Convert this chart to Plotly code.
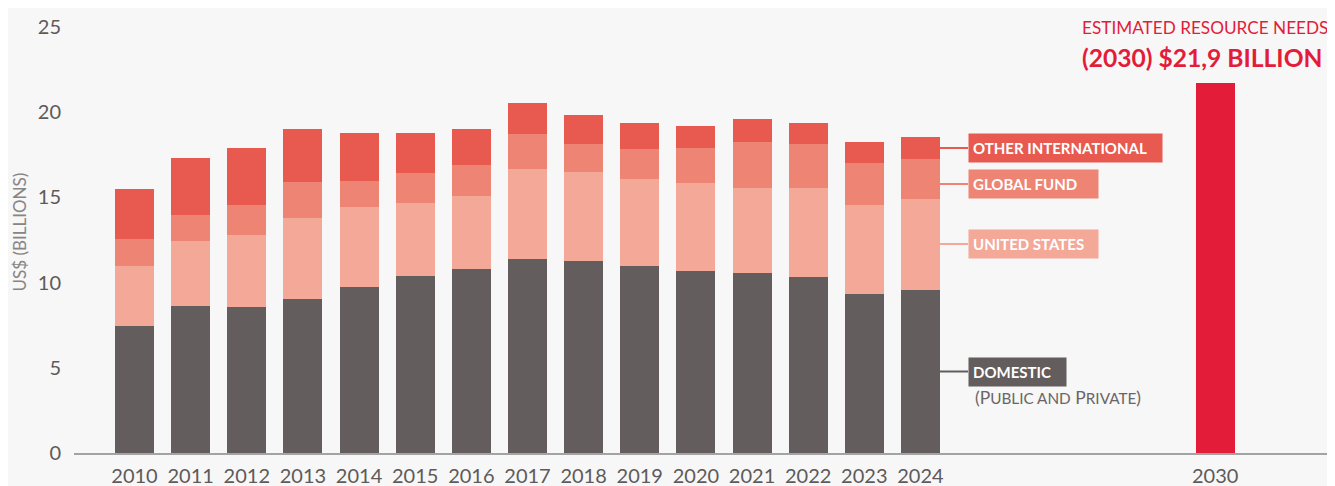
import plotly.graph_objects as go

# ---------------- data ----------------
years = ["2010", "2011", "2012", "2013", "2014", "2015", "2016", "2017",
         "2018", "2019", "2020", "2021", "2022", "2023", "2024"]
domestic = [7.44, 8.62, 8.56, 9.03, 9.74, 10.38, 10.79, 11.38,
            11.26, 10.97, 10.68, 10.56, 10.32, 9.32, 9.56]
united_states = [3.53, 3.82, 4.23, 4.76, 4.70, 4.30, 4.30, 5.30,
                 5.24, 5.12, 5.17, 5.00, 5.24, 5.24, 5.35]
global_fund = [1.59, 1.53, 1.77, 2.12, 1.53, 1.76, 1.82, 2.06,
               1.65, 1.76, 2.06, 2.70, 2.59, 2.47, 2.35]
other_international = [2.94, 3.35, 3.35, 3.12, 2.82, 2.35, 2.12, 1.82,
                       1.70, 1.53, 1.30, 1.36, 1.23, 1.23, 1.30]
target_year = "2030"
target_value = 21.7
y_ticks = [0, 5, 10, 15, 20, 25]

# ---------------- style / layout ----------------
C_DOM = "#635d5d"
C_US = "#f4a898"
C_GF = "#ee8473"
C_OI = "#e85a50"
C_TARGET = "#e31c3a"
BG = "#f6f7f6"
FONT = "Lato"

OFF = 8  # page body margin offset
W, H = 1335 - OFF, 486 - OFF
ML, MR, MT, MB = 74 - OFF, 2, 27 - OFF, 33
plot_w = W - ML - MR
plot_h = H - MT - MB

x_pos = list(range(len(years)))
target_pos = len(years) - 1 + 5.25
x0_px, step_px = 134.5 - OFF, 56.14
x_range = [(ML - x0_px) / step_px, (W - MR - x0_px) / step_px]
bar_w = 0.695


def px_to_paper_x(px):
    return (px - OFF - ML) / plot_w


def px_to_paper_y(py):
    return (H - MB - (py - OFF)) / plot_h


fig = go.Figure()
for name, vals, col in [("Domestic", domestic, C_DOM),
                        ("United States", united_states, C_US),
                        ("Global Fund", global_fund, C_GF),
                        ("Other international", other_international, C_OI)]:
    fig.add_trace(go.Bar(x=x_pos, y=vals, name=name, marker_color=col,
                         marker_line_width=0, width=bar_w))
fig.add_trace(go.Bar(x=[target_pos], y=[target_value], name=target_year,
                     marker_color=C_TARGET, marker_line_width=0, width=bar_w))

# series labels with connector lines
label_left_px = 968
labels = [
    ("OTHER INTERNATIONAL", C_OI, 148, 193),
    ("GLOBAL FUND", C_GF, 184, 129),
    ("UNITED STATES", C_US, 244, 129),
    ("DOMESTIC", C_DOM, 371.5, 97),
]
annotations = []
shapes = []
for text, col, py, box_w in labels:
    shapes.append(dict(type="line", xref="paper", yref="paper",
                       x0=px_to_paper_x(940), x1=px_to_paper_x(label_left_px),
                       y0=px_to_paper_y(py), y1=px_to_paper_y(py),
                       line=dict(color=col, width=2)))
    annotations.append(dict(
        xref="paper", yref="paper", x=px_to_paper_x(label_left_px),
        y=px_to_paper_y(py), xanchor="left", yanchor="middle",
        text=text, showarrow=False, align="left",
        bgcolor=col, borderpad=4, width=box_w - 8, height=20,
        font=dict(family=FONT, size=15, color="white", weight="bold")))

annotations.append(dict(
    xref="paper", yref="paper", x=px_to_paper_x(973), y=px_to_paper_y(397),
    xanchor="left", yanchor="middle", showarrow=False,
    text="(P<span style='font-size:15.3px'>UBLIC AND</span> P<span style='font-size:15.3px'>RIVATE</span>)",
    font=dict(family=FONT, size=17.5, color="#6b6565")))

annotations.append(dict(
    xref="paper", yref="paper", x=px_to_paper_x(1080), y=px_to_paper_y(27),
    xanchor="left", yanchor="middle", showarrow=False,
    text="ESTIMATED RESOURCE NEEDS",
    font=dict(family=FONT, size=17.2, color=C_TARGET)))
annotations.append(dict(
    xref="paper", yref="paper", x=px_to_paper_x(1080), y=px_to_paper_y(57),
    xanchor="left", yanchor="middle", showarrow=False,
    text="(2030) $21,9 BILLION",
    font=dict(family=FONT, size=24.6, color=C_TARGET, weight="bold")))

annotations.append(dict(
    xref="paper", yref="paper", x=px_to_paper_x(19.5), y=px_to_paper_y(232),
    xanchor="center", yanchor="middle", showarrow=False, textangle=-90,
    text="US$ (BILLIONS)",
    font=dict(family=FONT, size=17, color="#8a8585")))

fig.update_layout(
    width=W, height=H, barmode="stack", showlegend=False,
    paper_bgcolor=BG, plot_bgcolor=BG,
    margin=dict(l=ML, r=MR, t=MT, b=MB, pad=0, autoexpand=False),
    annotations=annotations, shapes=shapes,
    font=dict(family=FONT, color="#5e5a5a"),
)
fig.update_xaxes(range=x_range, tickvals=x_pos + [target_pos],
                 ticktext=years + [target_year], showgrid=False,
                 zeroline=False, showline=True, linecolor="#a3a3a3",
                 linewidth=2, ticks="", ticklabelstandoff=4,
                 automargin=False,
                 tickfont=dict(family=FONT, size=20, color="#5e5a5a"))
fig.update_yaxes(range=[0, 25], tickvals=y_ticks, showgrid=False,
                 zeroline=False, showline=False, ticks="",
                 ticklabelstandoff=12, automargin=False,
                 tickfont=dict(family=FONT, size=20, color="#5e5a5a"))

fig.write_html("out.html")
